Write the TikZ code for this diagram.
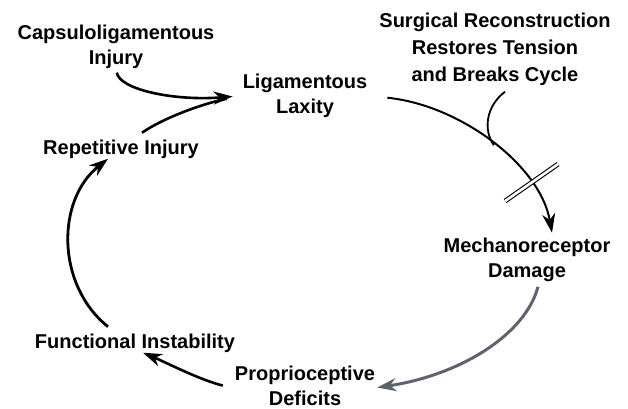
\documentclass[tikz,border=0pt]{standalone}
\usepackage{fontspec}
\setmainfont{Liberation Sans}
\usepackage{tikz}
\usetikzlibrary{arrows.meta}
\definecolor{loopgray}{RGB}{95,99,112}

\begin{document}
\begin{tikzpicture}[x=1pt,y=-1pt,
    lbl/.style={inner sep=0pt,anchor=north,align=center,font=\bfseries\fontsize{20}{25}\selectfont},
    tip/.style={-{Stealth[length=19pt,width=13pt,inset=6pt]}},
    cyc/.style={line width=2.6pt,tip}]
  \useasboundingbox (0,0) rectangle (628,408);
  \node [lbl] (capsule) at (116,24.7) {Capsuloligamentous\\Injury};
  \node [lbl] (laxity) at (305,73.7) {Ligamentous\\Laxity};
  \node [lbl,font=\bfseries\fontsize{20}{27}\selectfont] (surgery) at (495,12.7) {Surgical Reconstruction\\Restores Tension\\and Breaks Cycle};
  \node [lbl] (repeat) at (121,139.7) {Repetitive Injury};
  \node [lbl] (mech) at (527,237.7) {Mechanoreceptor\\Damage};
  \node [lbl] (instab) at (135,333.7) {Functional Instability};
  \node [lbl] (proprio) at (305,365.5) {Proprioceptive\\Deficits};
  \draw [cyc,shorten <=4pt,shorten >=10pt] (capsule.south) .. controls (120,90) and (175,101) .. (laxity.west);
  \draw [line width=2.6pt,shorten >=16pt] ([xshift=21pt,yshift=7pt]repeat.north) .. controls (165,117) and (205,103) .. (laxity.west);
  \draw [line width=2pt,tip,shorten <=20pt] (laxity.east) .. controls (460,105) and (540,165) .. ([xshift=25pt,yshift=5pt]mech.north)
    coordinate [pos=0.52] (join) coordinate [pos=0.75] (cut);
  \draw [line width=1.8pt] ([xshift=10pt,yshift=-6pt]surgery.south) .. controls (486,106) and (483,130) .. (join);
  \draw [double,double distance=2.6pt,line width=1.1pt] ([shift={(-26,17)}]cut) -- ([shift={(27,-20)}]cut);
  \draw [cyc,line width=3pt,loopgray] ([xshift=11pt,yshift=-5pt]mech.south) .. controls (525,335) and (460,375) .. ([xshift=2pt,yshift=-2pt]proprio.east);
  \draw [cyc] ([xshift=-12pt]proprio.west) .. controls (200,380) and (165,362) .. ([xshift=8pt]instab.south);
  \draw [cyc,line width=2.8pt] ([xshift=-27pt,yshift=7pt]instab.north) .. controls (56,285) and (56,200) .. ([xshift=-13pt]repeat.south);
\end{tikzpicture}
\end{document}
